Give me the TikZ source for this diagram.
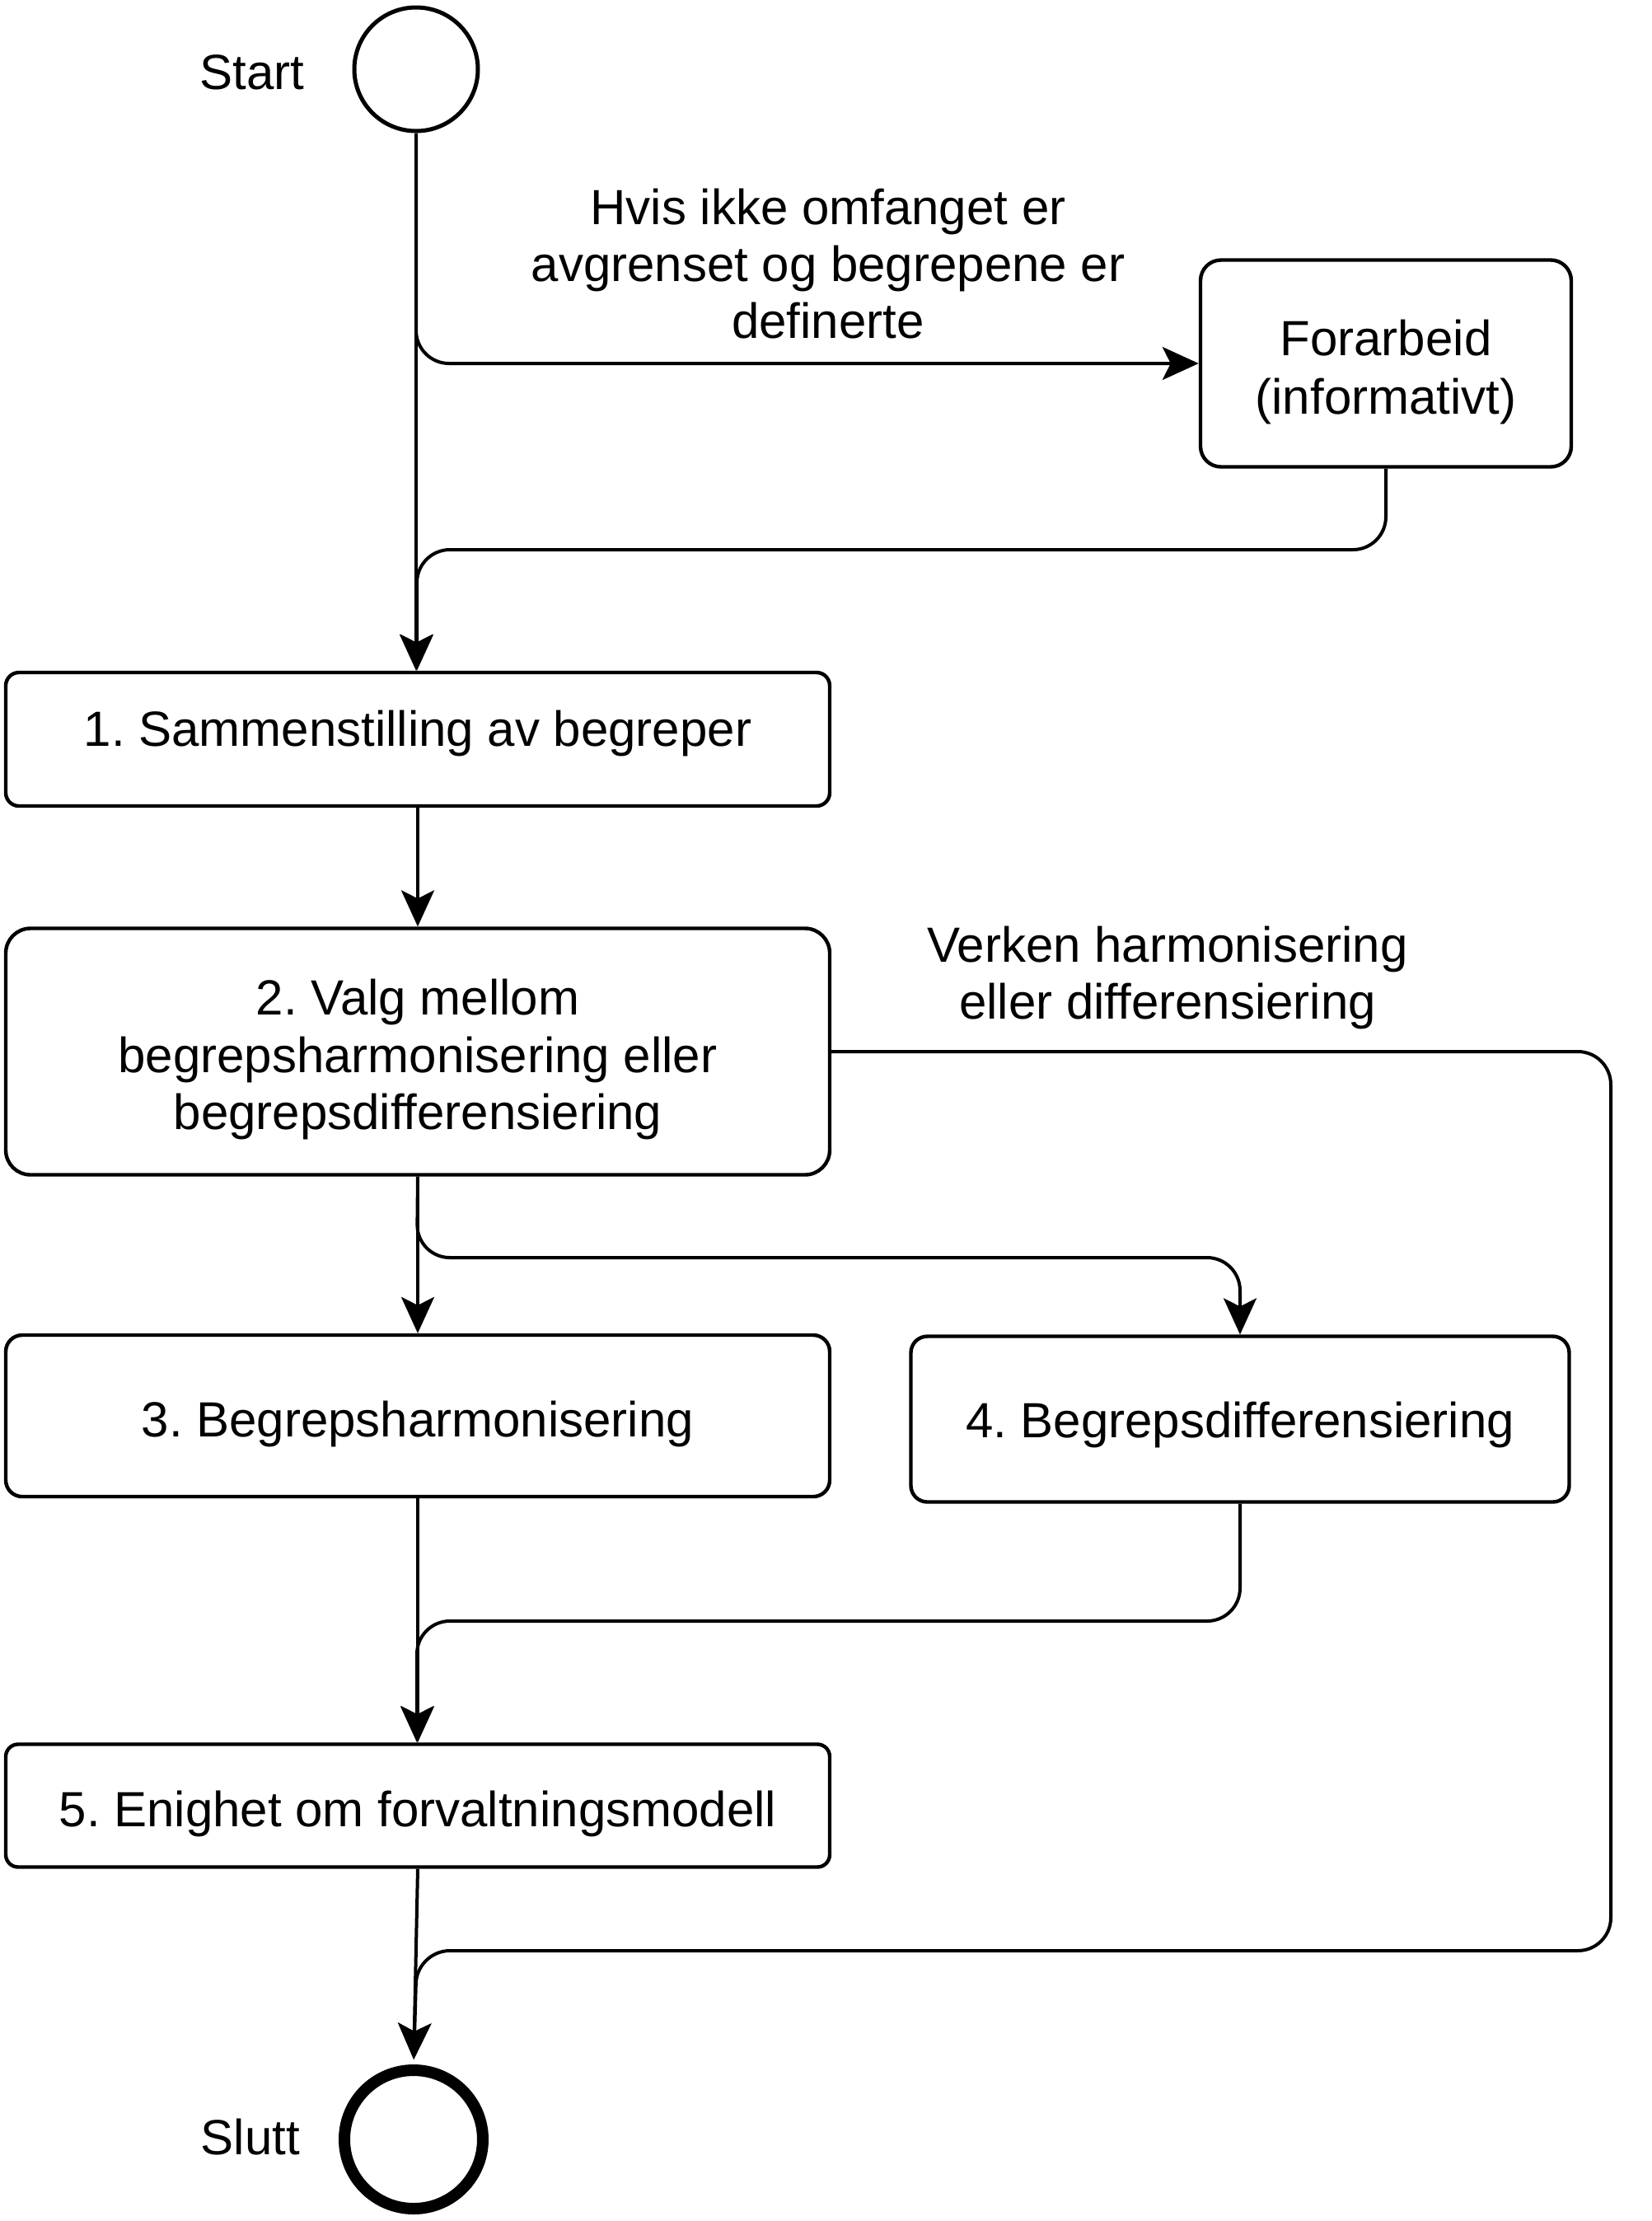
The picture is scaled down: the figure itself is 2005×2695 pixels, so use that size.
\documentclass[tikz,border=0pt]{standalone}
\usepackage{fontspec}
\setmainfont{Liberation Sans}
\usetikzlibrary{arrows.meta}
\frenchspacing
% lower a line of text by #1 without changing the space it takes
\newcommand\tdown[2]{\raisebox{-#1}[\height][\depth]{#2}}
\tikzset{
  txt/.style={font=\fontsize{30}{34.5}\selectfont},
  box/.style={draw, line width=2.2pt, rounded corners=#1, minimum width=500pt, align=center, inner sep=0pt, txt},
  box/.default=10pt,
  conn/.style={line width=2pt, -{Stealth[length=22pt,width=20pt,inset=5pt]}, rounded corners=20pt},
  lbl/.style={align=center, inner sep=0pt, txt},
}
\begin{document}
\begin{tikzpicture}[x=0.5pt,y=-0.5pt]
\useasboundingbox (0,0) rectangle (2005,2695);
% nodes
\node[draw, circle, line width=2.5pt, minimum size=75pt, inner sep=0pt] (start) at (505,84) {};
\node[lbl] (startlbl) at (306,88) {Start};
\node[box=12.5pt, minimum width=225pt, minimum height=125.5pt] (fa) at (1682,441)
  {\tdown{4.5pt}{Forarbeid}\\\tdown{5.5pt}{(informativt)}};
\node[lbl] (hvis) at (1005,320) {Hvis ikke omfanget er\\avgrenset og begrepene er\\definerte};
\node[box=8pt, minimum height=81pt] (b1) at (507,897) {\tdown{-3.5pt}{1. Sammenstilling av begreper}};
\node[box=15pt, minimum height=149.5pt] (b2) at (507,1276)
  {\tdown{4.5pt}{2. Valg mellom}\\\tdown{4.75pt}{begrepsharmonisering eller}\\\tdown{5pt}{begrepsdifferensiering}};
\node[lbl] (verken) at (1417,1186) {Verken harmonisering\\eller differensiering};
\node[box=10pt, minimum height=98pt] (b3) at (507,1718) {\tdown{5pt}{3. Begrepsharmonisering}};
\node[box=10pt, minimum width=399.5pt, minimum height=100.5pt] (b4) at (1505,1722) {\tdown{3.5pt}{4. Begrepsdifferensiering}};
\node[box=7.5pt, minimum height=74.5pt] (b5) at (507,2191) {\tdown{5pt}{5. Enighet om forvaltningsmodell}};
\node[draw, circle, line width=7pt, minimum size=84pt, inner sep=0pt] (slutt) at (502,2596) {};
\node[lbl] (sluttlbl) at (304,2593) {Slutt};
% helper coordinates
\coordinate (j1) at (506,667);
\coordinate (j2) at (506,1526);
\coordinate (j3) at (506,1967);
\coordinate (r1) at (1955,1276);
\coordinate (r2) at (1955,2367);
\coordinate (j4) at (506,2367);
% connectors
\draw[conn] (start.south) -- (start.south |- b1.north);
\draw[conn] (start.south) -- (start.south |- fa.west) -- (fa.west);
\draw[conn] (fa.south) |- (j1) -- (j1 |- b1.north);
\draw[conn] (b1.south) -- (b2.north);
\draw[conn] (b2.south) -- (b3.north);
\draw[conn] (b2.south) -- (j2) -| (b4.north);
\draw[conn] (b4.south) |- (j3) -- (j3 |- b5.north);
\draw[conn] (b3.south) -- (b5.north);
\draw[conn, shorten >=3pt] (b5.south) -- (slutt.north);
\draw[conn, shorten >=3pt] (b2.east) -- (r1) -- (r2) -- (j4) -- (slutt.north);
\end{tikzpicture}
\end{document}
